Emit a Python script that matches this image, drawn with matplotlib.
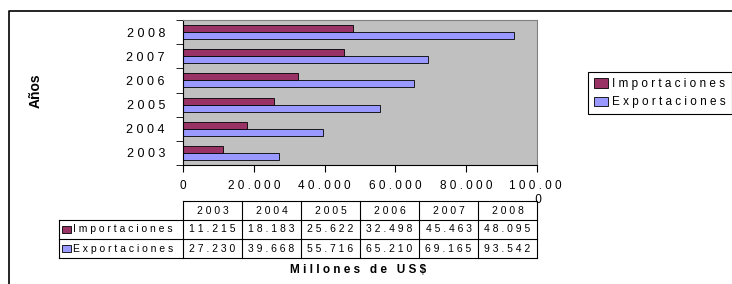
import numpy as np
import matplotlib.pyplot as plt
from matplotlib.patches import Rectangle

plt.rcParams['font.family'] = ['Liberation Sans', 'DejaVu Sans']

years = ['2003', '2004', '2005', '2006', '2007', '2008']
importaciones = [11215, 18183, 25622, 32498, 45463, 48095]
exportaciones = [27230, 39668, 55716, 65210, 69165, 93542]
imp_txt = ['11.215', '18.183', '25.622', '32.498', '45.463', '48.095']
exp_txt = ['27.230', '39.668', '55.716', '65.210', '69.165', '93.542']
xticks = [0, 20000, 40000, 60000, 80000, 100000]
xtick_txt = ['0', '20.000', '40.000', '60.000', '80.000', '100.00\n0']

c_imp = '#993366'
c_exp = '#9999FF'


def sp(s):
    # spread letters like the original excel export
    return '   '.join(' '.join(w) for w in s.split(' '))


W, H = 732, 284
fig = plt.figure(figsize=(W / 100, H / 100), dpi=100)

# pixel overlay for frame and data table
bg = fig.add_axes([0, 0, 1, 1])
bg.set_xlim(0, W)
bg.set_ylim(H, 0)
bg.axis('off')
bg.plot([9, 9, W], [H, 11, 11], color='black', lw=1.2)

ax = fig.add_axes([183 / W, 1 - 165 / H, 354 / W, 145 / H])
ax.set_facecolor('#C0C0C0')
y = np.arange(len(years))
h = 0.29
ax.barh(y + h / 2, importaciones, height=h, color=c_imp, edgecolor='black', lw=0.6, label=sp('Importaciones'))
ax.barh(y - h / 2, exportaciones, height=h, color=c_exp, edgecolor='black', lw=0.6, label=sp('Exportaciones'))
ax.set_ylim(-0.5, 5.5)
ax.set_xlim(0, 100000)
ax.set_yticks(y)
ax.set_yticklabels([sp(t) for t in years], fontsize=9)
ax.set_yticks(np.arange(-0.5, 6, 1), minor=True)
ax.tick_params(axis='y', which='major', length=0, pad=13)
ax.tick_params(axis='y', which='minor', length=5, direction='out')
ax.set_xticks(xticks)
ax.set_xticklabels([sp(t) for t in xtick_txt], fontsize=8.5)
ax.tick_params(axis='x', length=5, pad=6)
for s in ['top', 'right']:
    ax.spines[s].set_color('#808080')
    ax.spines[s].set_linewidth(0.8)

fig.text(36 / W, 1 - 91 / H, 'Años', rotation=90, fontsize=10, fontweight='bold', ha='center', va='center')
fig.text(358 / W, 1 - 270 / H, sp('Millones de US$'), fontsize=8.5, fontweight='bold', ha='center', va='center')

leg = fig.legend(loc='upper left', bbox_to_anchor=(588 / W, 1 - 72 / H), fontsize=8.5,
                 handlelength=1.2, handleheight=0.85, handletextpad=0.35, borderpad=0.5,
                 labelspacing=0.55, fancybox=False, edgecolor='black', framealpha=1,
                 borderaxespad=0)
leg.get_frame().set_linewidth(0.8)

# data table
rows = [201, 220, 239, 258]
x0, xl, cw = 59, 183, 59
cols = [xl + cw * i for i in range(len(years) + 1)]
lc = dict(color='black', lw=0.8)
bg.plot([xl, cols[-1]], [rows[0], rows[0]], **lc)
for r in rows[1:]:
    bg.plot([x0, cols[-1]], [r, r], **lc)
for c in cols:
    bg.plot([c, c], [rows[0], rows[-1]], **lc)
bg.plot([x0, x0], [rows[1], rows[-1]], **lc)
for i, yr in enumerate(years):
    cx = cols[i] + cw / 2
    bg.text(cx, (rows[0] + rows[1]) / 2, sp(yr), fontsize=7.5, ha='center', va='center')
    bg.text(cx, (rows[1] + rows[2]) / 2, sp(imp_txt[i]), fontsize=7.5, ha='center', va='center')
    bg.text(cx, (rows[2] + rows[3]) / 2, sp(exp_txt[i]), fontsize=7.5, ha='center', va='center')
for k, (name, col) in enumerate([('Importaciones', c_imp), ('Exportaciones', c_exp)]):
    ym = (rows[k + 1] + rows[k + 2]) / 2
    bg.add_patch(Rectangle((62, ym - 3.5), 9, 7, facecolor=col, edgecolor='black', lw=0.6))
    bg.text(73, ym, sp(name), fontsize=7.5, ha='left', va='center')

fig.savefig('out.png', dpi=100)
